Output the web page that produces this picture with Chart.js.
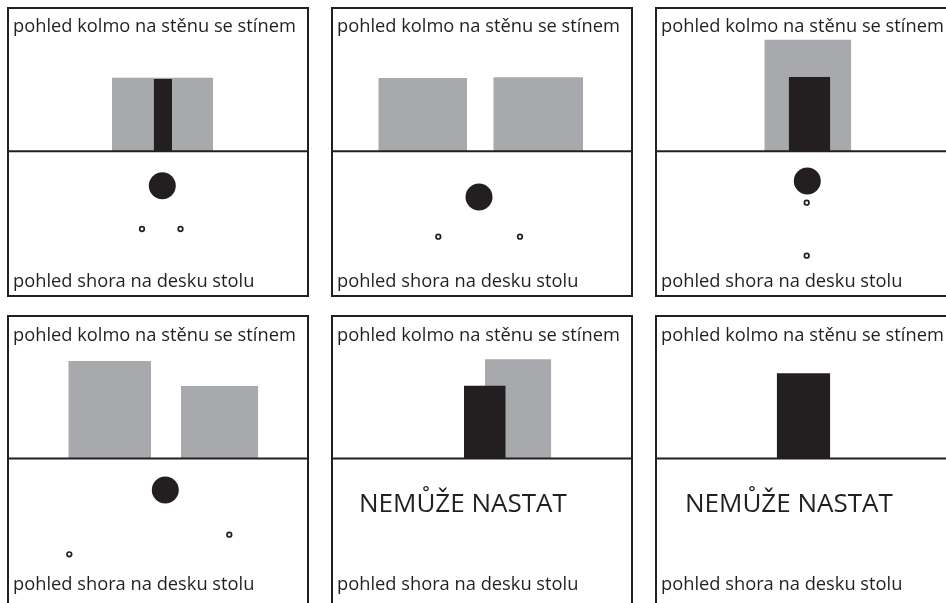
<!DOCTYPE html>
<html>
<head>
<meta charset="utf-8">
<script src="https://cdn.jsdelivr.net/npm/chart.js@4"></script>
<style>
html, body { margin:0; padding:0; background:#fff; overflow:hidden; width:946px; height:603px; }
.panel { position:absolute; border:2px solid #231f20; box-sizing:border-box; }
.panel canvas { position:absolute; left:0; top:0; }
.label { position:absolute; font-family:'Open Sans'; font-size:18.3px; line-height:18px; color:#231f20; white-space:nowrap; }
.note { font-size:26px; line-height:26px; }
</style>
</head>
<body>
<div id="figure"></div>
<script>
const top_label = 'pohled kolmo na stěnu se stínem'
const bottom_label = 'pohled shora na desku stolu'
const note_label = 'NEMŮŽE NASTAT'

// wall view, above the table edge: [left, right, height]
const shadows = [
    [[103, 204, 73.6]],
    [[45.3, 134, 73.3], [160.3, 250, 74]],
    [[107.3, 194.3, 111.6]],
    [[59.3, 142, 97.5], [172, 249.3, 72.5]],
    [[152, 218.3, 99.2]],
    []
]
const objects = [
    [[144.7, 163, 72.3]],
    [],
    [[131.7, 173.3, 74.3]],
    [],
    [[131, 172.7, 72.8]],
    [[119.7, 173.3, 85.2]]
]

// table seen from above, below the table edge: [x, y]
const discs = [
    [153.3, -34.4],
    [146, -45.7],
    [150.3, -29.7],
    [156.3, -31.5],
    null,
    null
]
const lights = [
    [[133, -77.7], [171.5, -77.7]],
    [[105.3, -85.4], [187, -85.4]],
    [[149.7, -51.4], [149.7, -104.4]],
    [[220.3, -76.2], [60.3, -95.8]],
    [],
    []
]
const notes = [null, null, null, null, note_label, note_label]

const ink = '#231f20'
const grey = '#a7a9ac'

// layout of the six frames
const col_left = [7, 331, 655]
const row_top = [7, 315]
const frame_w = 302
const frame_h = [290, 300]
const ground_y = [142.3, 141.5]
const top_text_y = [6.7, 7.7]
const bottom_text_y = [261.7, 257]

function rect_dataset(r, color, order)
{
    return {
        type: 'line',
        data: [{x: r[0], y: r[2]}, {x: r[1], y: r[2]}],
        fill: 'origin',
        backgroundColor: color,
        borderColor: 'rgba(0,0,0,0)',
        borderWidth: 0,
        pointRadius: 0,
        order: order
    }
}

function add_label(parent, text, cls, left, top)
{
    const el = document.createElement('div')
    el.className = cls
    el.textContent = text
    el.style.left = left + 'px'
    el.style.top = top + 'px'
    parent.appendChild(el)
}

function draw_panel(i)
{
    const row = Math.floor(i / 3)
    const col = i % 3
    const w = frame_w - 4
    const h = frame_h[row] - 4

    const frame = document.createElement('div')
    frame.className = 'panel'
    frame.style.left = col_left[col] + 'px'
    frame.style.top = row_top[row] + 'px'
    frame.style.width = frame_w + 'px'
    frame.style.height = frame_h[row] + 'px'
    document.getElementById('figure').appendChild(frame)

    const canvas = document.createElement('canvas')
    canvas.width = w
    canvas.height = h
    frame.appendChild(canvas)

    const datasets = []
    datasets.push({
        type: 'line',
        data: [{x: 0, y: 0}, {x: w, y: 0}],
        borderColor: ink,
        borderWidth: 2,
        pointRadius: 0,
        fill: false,
        order: 0
    })
    shadows[i].forEach(r => datasets.push(rect_dataset(r, grey, 3)))
    objects[i].forEach(r => datasets.push(rect_dataset(r, ink, 2)))
    if(discs[i])
        datasets.push({
            data: [{x: discs[i][0], y: discs[i][1]}],
            pointRadius: 13.5,
            backgroundColor: ink,
            borderWidth: 0,
            order: 1
        })
    if(lights[i].length)
        datasets.push({
            data: lights[i].map(p => ({x: p[0], y: p[1]})),
            pointRadius: 2.3,
            backgroundColor: '#fff',
            borderColor: ink,
            borderWidth: 1.7,
            order: 1
        })

    new Chart(canvas.getContext('2d'),
        {
            type: 'scatter',
            data: { datasets: datasets },
            options: {
                responsive: false,
                animation: false,
                events: [],
                layout: { padding: 0, autoPadding: false },
                plugins: { legend: { display: false }, tooltip: { enabled: false } },
                scales: {
                    x: { type: 'linear', display: false, min: 0, max: w },
                    y: { type: 'linear', display: false, min: ground_y[row] - h, max: ground_y[row] }
                }
            }
        }
    )

    add_label(frame, top_label, 'label', 4, top_text_y[row])
    add_label(frame, bottom_label, 'label', 4, bottom_text_y[row])
    if(notes[i])
        add_label(frame, notes[i], 'label note', col === 1 ? 26 : 28, 171.6)
}

function init()
{
    for(let i = 0; i < 6; i++)
        draw_panel(i)
}

init()
</script>
</body>
</html>
